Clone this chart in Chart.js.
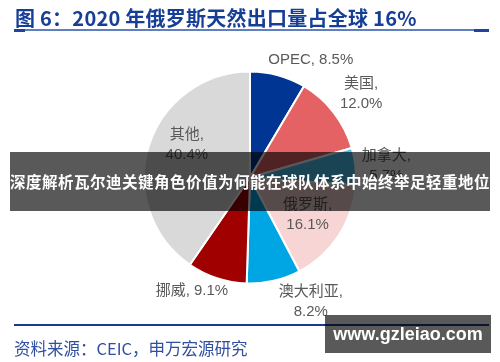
<!DOCTYPE html>
<html>
<head>
<meta charset="utf-8">
<script src="https://cdn.jsdelivr.net/npm/chart.js@4"></script>
<style>
  body { margin: 0; background: #fff; }
  .page { position: relative; width: 500px; height: 362px; overflow: hidden; font-family: "Liberation Sans", "Noto Sans CJK SC", sans-serif; }
  #pie { position: absolute; left: 0; top: 0; }
  .title { position: absolute; left: 15px; top: 3px; font-size: 20px; letter-spacing: 0.25px; font-weight: bold; color: #173e96; font-family: "Noto Sans CJK SC", sans-serif; white-space: nowrap; }
  .rule { position: absolute; left: 14px; width: 475px; height: 2px; background: #5f7fc2; top: 29px; }
  .rule-end { position: absolute; top: 29px; height: 3px; background: #1d45a0; }
  .foot-rule { position: absolute; left: 14px; width: 475px; height: 2px; background: #1a3a8c; top: 324px; }
  .source { position: absolute; left: 14px; top: 336px; font-size: 16.5px; color: #2f4fa0; font-family: "Noto Sans CJK SC", sans-serif; white-space: nowrap; }
  .banner { position: absolute; left: 10px; top: 152px; width: 480px; height: 59px; background: rgba(0,0,0,0.65); color: #fff; font-family: "Noto Sans CJK SC", sans-serif; font-size: 15.5px; letter-spacing: 0.5px; font-weight: bold; line-height: 59px; white-space: nowrap; overflow: hidden; }
  .mark { position: absolute; left: 325px; top: 315px; width: 166px; height: 38px; background: rgba(0,0,0,0.65); color: #fff; font-family: "Liberation Sans", sans-serif; font-weight: bold; font-size: 18px; line-height: 38px; text-align: center; }
</style>
</head>
<body>
<div class="page">
  <canvas id="pie" width="500" height="362"></canvas>
  <div class="title">图 6：2020 年俄罗斯天然出口量占全球 16%</div>
  <div class="rule"></div>
  <div class="rule-end" style="left:14px;width:11px"></div>
  <div class="rule-end" style="left:474px;width:15px"></div>
  <div class="foot-rule"></div>
  <div class="source">资料来源：CEIC，申万宏源研究</div>
  <div class="banner">深度解析瓦尔迪关键角色价值为何能在球队体系中始终举足轻重地位</div>
  <div class="mark">www.gzleiao.com</div>
</div>
<script>
// data
const categories = ['OPEC', '美国', '加拿大', '俄罗斯', '澳大利亚', '挪威', '其他'];
const shares = [8.5, 12.0, 5.7, 16.1, 8.2, 9.1, 40.4];
const sliceColors = ['#003594', '#e46264', '#4cc4ef', '#f8d5d5', '#00a6e4', '#a00000', '#d9d9d9'];

// label placement: distance in radii, angle shift in degrees, one line or two
const labelDist = [1.25, 1.31, 1.29, 0.65, 1.31, 1.20, 0.67];
const labelShift = [12, 1, 1, 0, -13, 9, 10];
const oneLine = [true, false, false, false, false, true, false];

const labelPlugin = {
    id: 'sliceLabels',
    afterDatasetsDraw(chart) {
        const ctx = chart.ctx;
        const arcs = chart.getDatasetMeta(0).data;
        ctx.save();
        ctx.fillStyle = '#595959';
        ctx.font = '15px "Liberation Sans", "Noto Sans CJK SC", sans-serif';
        ctx.textAlign = 'center';
        ctx.textBaseline = 'middle';
        arcs.forEach((arc, i) => {
            const p = arc.getProps(['x', 'y', 'startAngle', 'endAngle', 'outerRadius'], true);
            const a = (p.startAngle + p.endAngle) / 2 + labelShift[i] * Math.PI / 180;
            const r = p.outerRadius * labelDist[i];
            const x = p.x + Math.cos(a) * r;
            const y = p.y + Math.sin(a) * r;
            const val = shares[i].toFixed(1) + '%';
            if (oneLine[i]) {
                ctx.fillText(categories[i] + ', ' + val, x, y);
            } else {
                ctx.fillText(categories[i] + ',', x, y - 10);
                ctx.fillText(val, x, y + 10);
            }
        });
        ctx.restore();
    }
};

new Chart(document.getElementById('pie'), {
    type: 'pie',
    data: {
        labels: categories,
        datasets: [{
            data: shares,
            backgroundColor: sliceColors,
            borderColor: '#ffffff',
            borderWidth: 2
        }]
    },
    options: {
        responsive: false,
        animation: false,
        layout: { padding: { left: 143, right: 143, top: 70, bottom: 77 } },
        plugins: {
            legend: { display: false },
            tooltip: { enabled: false }
        }
    },
    plugins: [labelPlugin]
});
</script>
</body>
</html>
